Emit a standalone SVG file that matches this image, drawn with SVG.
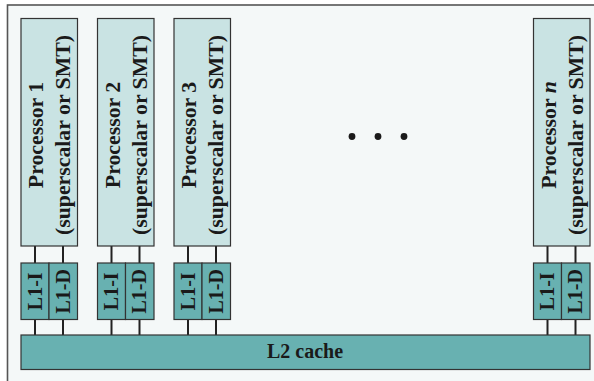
<svg xmlns="http://www.w3.org/2000/svg" width="594" height="381" viewBox="0 0 594 381">
<style>
.proc{fill:#c9e3e3;stroke:#333;stroke-width:1.2}
.l1{fill:#68b1b1;stroke:#333;stroke-width:1.2}
.t{font-family:"Liberation Serif","Times New Roman",serif;font-weight:bold;fill:#1a1a1a;text-anchor:middle}
.pt{font-size:21.8px}
.lt{font-size:20px}
.wire{stroke:#222;stroke-width:2}
</style>
<rect x="0" y="0" width="594" height="381" fill="#ffffff"/>
<rect x="7.5" y="5" width="620" height="420" fill="#f4f8f8" stroke="#555" stroke-width="1.6"/>
<g id="connectors">
<path class="wire" d="M35 246V263M63 246V263M35 319V335M63 319V335"/>
<path class="wire" d="M111.5 246V263M139.5 246V263M111.5 319V335M139.5 319V335"/>
<path class="wire" d="M188 246V263M216 246V263M188 319V335M216 319V335"/>
<path class="wire" d="M547.5 246V263M575.5 246V263M547.5 319V335M575.5 319V335"/>
</g>
<g id="proc1">
<rect class="proc" x="21" y="18.5" width="56.5" height="227.5"/>
<text class="t pt" transform="translate(43.3,135) rotate(-90)">Processor 1</text>
<text class="t pt" transform="translate(70.3,135) rotate(-90)">(superscalar or SMT)</text>
</g>
<g id="proc2">
<rect class="proc" x="97.5" y="18.5" width="56.5" height="227.5"/>
<text class="t pt" transform="translate(119.8,135) rotate(-90)">Processor 2</text>
<text class="t pt" transform="translate(146.8,135) rotate(-90)">(superscalar or SMT)</text>
</g>
<g id="proc3">
<rect class="proc" x="174" y="18.5" width="56.5" height="227.5"/>
<text class="t pt" transform="translate(196.3,135) rotate(-90)">Processor 3</text>
<text class="t pt" transform="translate(223.3,135) rotate(-90)">(superscalar or SMT)</text>
</g>
<g id="procn">
<rect class="proc" x="533.5" y="18.5" width="56.5" height="227.5"/>
<text class="t pt" transform="translate(555.8,135) rotate(-90)">Processor <tspan font-style="italic">n</tspan></text>
<text class="t pt" transform="translate(582.8,135) rotate(-90)">(superscalar or SMT)</text>
</g>
<g id="l1-1">
<rect class="l1" x="21" y="263" width="28" height="56.5"/>
<rect class="l1" x="49" y="263" width="28.5" height="56.5"/>
<text class="t lt" transform="translate(41.6,291.3) rotate(-90)">L1-I</text>
<text class="t lt" transform="translate(69.8,291.3) rotate(-90)">L1-D</text>
</g>
<g id="l1-2">
<rect class="l1" x="97.5" y="263" width="28" height="56.5"/>
<rect class="l1" x="125.5" y="263" width="28.5" height="56.5"/>
<text class="t lt" transform="translate(118.1,291.3) rotate(-90)">L1-I</text>
<text class="t lt" transform="translate(146.3,291.3) rotate(-90)">L1-D</text>
</g>
<g id="l1-3">
<rect class="l1" x="174" y="263" width="28" height="56.5"/>
<rect class="l1" x="202" y="263" width="28.5" height="56.5"/>
<text class="t lt" transform="translate(194.6,291.3) rotate(-90)">L1-I</text>
<text class="t lt" transform="translate(222.8,291.3) rotate(-90)">L1-D</text>
</g>
<g id="l1-n">
<rect class="l1" x="533.5" y="263" width="28" height="56.5"/>
<rect class="l1" x="561.5" y="263" width="28.5" height="56.5"/>
<text class="t lt" transform="translate(554.1,291.3) rotate(-90)">L1-I</text>
<text class="t lt" transform="translate(582.3,291.3) rotate(-90)">L1-D</text>
</g>
<g id="l2">
<rect class="l1" x="21" y="335" width="569" height="34.5"/>
<text class="t lt" x="305" y="357.5">L2 cache</text>
</g>
<g id="dots" fill="#1a1a1a">
<circle cx="352" cy="136.5" r="3.4"/>
<circle cx="378" cy="136.5" r="3.4"/>
<circle cx="404" cy="136.5" r="3.4"/>
</g>
</svg>
